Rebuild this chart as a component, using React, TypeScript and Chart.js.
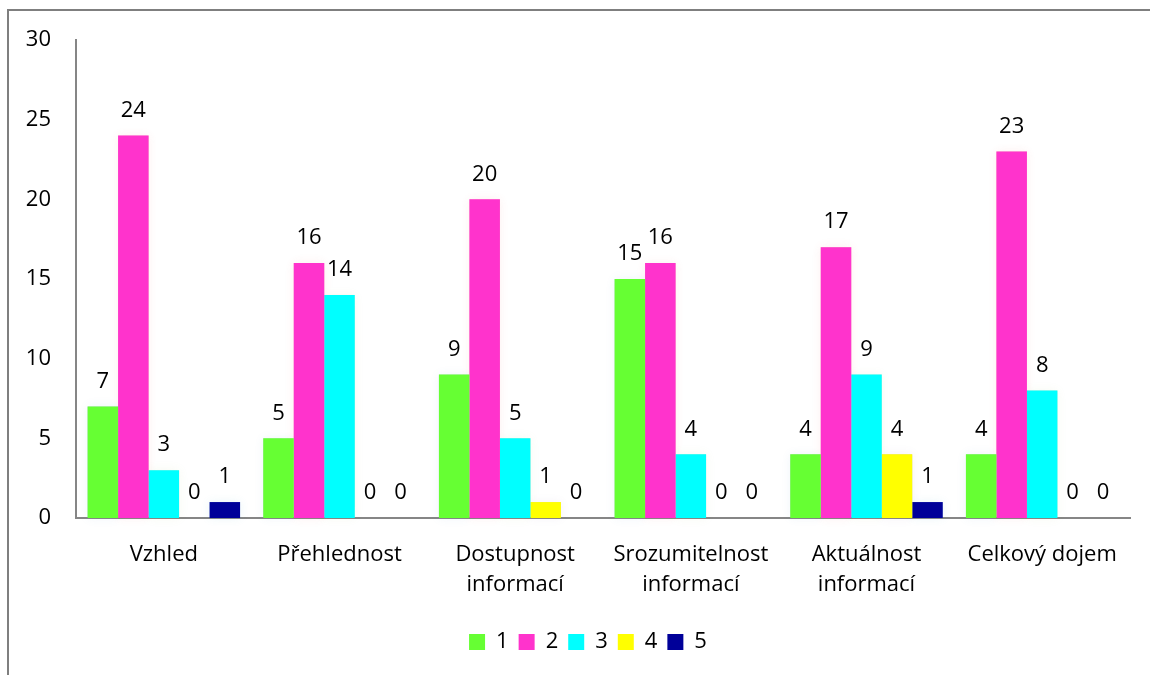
import React, { useEffect, useRef } from "react";
import { Chart, registerables } from "chart.js";

Chart.register(...registerables);

const categories: (string | string[])[] = [
  "Vzhled",
  "Přehlednost",
  ["Dostupnost", "informací"],
  ["Srozumitelnost", "informací"],
  ["Aktuálnost", "informací"],
  "Celkový dojem",
];
const seriesNames = ["1", "2", "3", "4", "5"];
const series1 = [7, 5, 9, 15, 4, 4];
const series2 = [24, 16, 20, 16, 17, 23];
const series3 = [3, 14, 5, 4, 9, 8];
const series4 = [0, 0, 1, 0, 4, 0];
const series5 = [1, 0, 0, 0, 1, 0];
const colors = ["#66FF33", "#FF33CC", "#00FFFF", "#FFFF00", "#000099"];
const glowColors = [
  "rgba(79,129,189,0.30)",
  "rgba(230,80,77,0.30)",
  "rgba(155,187,89,0.30)",
  "rgba(128,100,162,0.30)",
  "rgba(75,172,198,0.35)",
];

const FONT = "'Open Sans', sans-serif";

const glowPlugin = {
  id: "glow",
  beforeDatasetsDraw(chart: any) {
    const ctx = chart.ctx;
    chart.data.datasets.forEach((ds: any, i: number) => {
      const meta = chart.getDatasetMeta(i);
      meta.data.forEach((el: any) => {
        const h = el.base - el.y;
        if (h <= 0) return;
        ctx.save();
        ctx.shadowBlur = 10;
        ctx.shadowColor = glowColors[i];
        ctx.fillStyle = glowColors[i];
        ctx.fillRect(el.x - el.width / 2, el.y, el.width, h);
        ctx.restore();
      });
    });
  },
};

const labelPlugin = {
  id: "valueLabels",
  afterDatasetsDraw(chart: any) {
    const ctx = chart.ctx;
    ctx.save();
    ctx.font = `22px ${FONT}`;
    ctx.fillStyle = "#000000";
    ctx.textAlign = "center";
    ctx.textBaseline = "middle";
    chart.data.datasets.forEach((ds: any, i: number) => {
      const meta = chart.getDatasetMeta(i);
      meta.data.forEach((el: any, j: number) => {
        ctx.fillText(String(ds.data[j]), el.x, el.y - 25);
      });
    });
    ctx.restore();
  },
};

const legendShift = {
  id: "legendShift",
  afterLayout(chart: any) {
    if (chart.legend) {
      chart.legend.left += 23;
      chart.legend.right += 23;
    }
  },
};

const framePlugin = {
  id: "frame",
  afterDraw(chart: any) {
    const ctx = chart.ctx;
    ctx.save();
    ctx.strokeStyle = "#7f7f7f";
    ctx.lineWidth = 2;
    ctx.beginPath();
    ctx.moveTo(8, chart.height);
    ctx.lineTo(8, 10);
    ctx.lineTo(chart.width, 10);
    ctx.stroke();
    ctx.restore();
  },
};

export default function App() {
  const ref = useRef<HTMLCanvasElement | null>(null);
  useEffect(() => {
    if (!ref.current) return;
    const all = [series1, series2, series3, series4, series5];
    const chart = new Chart(ref.current, {
      type: "bar",
      data: {
        labels: categories,
        datasets: all.map((d, i) => ({
          label: seriesNames[i],
          data: d,
          backgroundColor: colors[i],
          borderWidth: 0,
          categoryPercentage: 0.868,
          barPercentage: 1,
        })),
      },
      options: {
        animation: false,
        responsive: false,
        layout: { padding: { left: 0, top: 40, right: 20, bottom: 12 } },
        plugins: {
          tooltip: { enabled: false },
          legend: {
            position: "bottom",
            labels: {
              font: { family: FONT, size: 22 },
              color: "#000000",
              boxWidth: 16,
              boxHeight: 16,
              padding: 10,
            },
          },
        },
        scales: {
          x: {
            grid: { display: false, drawTicks: false },
            border: { display: true, color: "#868686", width: 2 },
            ticks: {
              font: { family: FONT, size: 22, lineHeight: 1.36 },
              color: "#000000",
              padding: 22,
              maxRotation: 0,
              autoSkip: false,
            },
            afterFit(scale: any) {
              scale.height = 103;
            },
          },
          y: {
            min: 0,
            max: 30,
            grid: { display: false, drawTicks: false },
            border: { display: true, color: "#868686", width: 2 },
            ticks: {
              stepSize: 5,
              font: { family: FONT, size: 22 },
              color: "#000000",
              padding: 25,
            },
            afterFit(scale: any) {
              scale.width = 76;
            },
          },
        },
      },
      plugins: [legendShift, glowPlugin, labelPlugin, framePlugin],
    });
    return () => chart.destroy();
  }, []);
  return (
    <div style={{ position: "fixed", left: 0, top: 0, width: 1150, height: 675, background: "#fff" }}>
      <canvas ref={ref} width={1150} height={675} />
    </div>
  );
}
